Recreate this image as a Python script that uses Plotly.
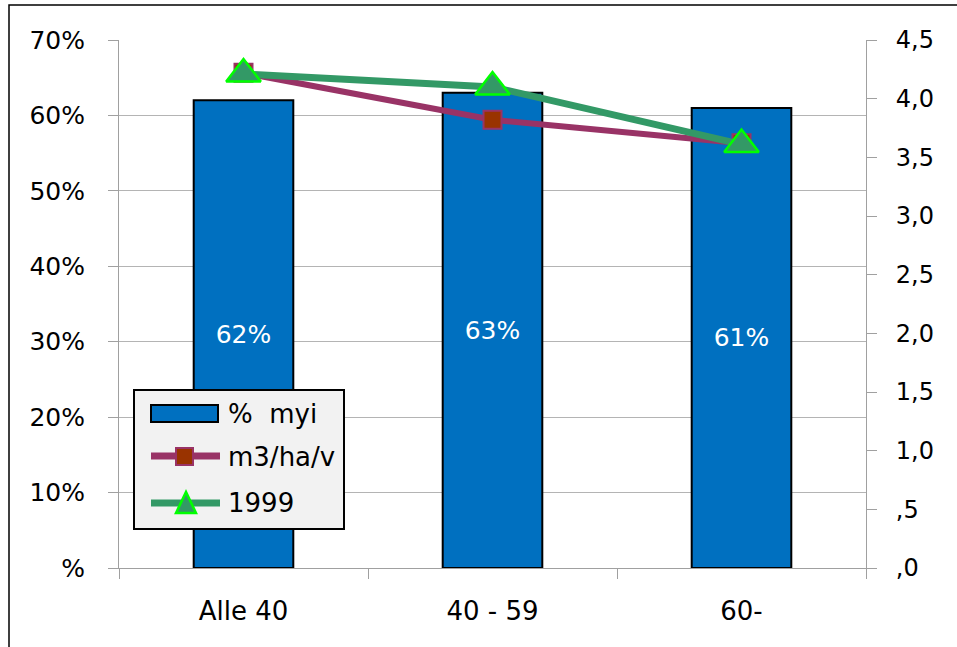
import plotly.graph_objects as go

# Age classes on the x axis
categories = ["Alle 40", "40 - 59", "60-"]

# Share (%) shown as bars on the left axis
share_myi = [62, 63, 61]

# Growth series on the right axis
m3_ha_v = [4.22, 3.82, 3.62]
year_1999 = [4.21, 4.10, 3.61]

series_names = ["%\u00a0\u00a0myi", "m3/ha/v", "1999"]

left_ticks = [0, 10, 20, 30, 40, 50, 60, 70]
left_ticktext = ["%", "10%", "20%", "30%", "40%", "50%", "60%", "70%"]
right_ticks = [0, 0.5, 1, 1.5, 2, 2.5, 3, 3.5, 4, 4.5]
right_ticktext = [",0", ",5", "1,0", "1,5", "2,0", "2,5", "3,0", "3,5", "4,0", "4,5"]

BAR_BLUE = "#0070C0"
PLUM = "#993366"
BRICK = "#993300"
SEA_GREEN = "#339966"
LIME = "#00FF00"
AXIS_GREY = "#a0a0a0"
GRID_GREY = "#b4b4b4"
FONT = "DejaVu Sans"

W, H = 957, 647
L, R, T, B = 119, 91, 40, 79
PW, PH = W - L - R, H - T - B


def px(x):
    return (x - L) / PW


def py(y):
    return (H - B - y) / PH


fig = go.Figure()

fig.add_trace(go.Bar(
    x=categories, y=share_myi, name=series_names[0],
    marker=dict(color=BAR_BLUE, line=dict(color="black", width=2)),
    width=0.4,
    texttemplate="%{y:.0f}%", textposition="inside", insidetextanchor="middle",
    textangle=0,
    textfont=dict(color="white", size=25, family=FONT),
    showlegend=False,
))

fig.add_trace(go.Scatter(
    x=categories, y=m3_ha_v, name=series_names[1], yaxis="y2",
    mode="lines+markers",
    line=dict(color=PLUM, width=6),
    marker=dict(symbol="square", size=18, color=BRICK, line=dict(color=PLUM, width=2)),
    showlegend=False,
))

fig.add_trace(go.Scatter(
    x=categories, y=year_1999, name=series_names[2], yaxis="y2",
    mode="lines+markers",
    line=dict(color=SEA_GREEN, width=7),
    marker=dict(symbol="triangle-up", size=30, color=SEA_GREEN, line=dict(color=LIME, width=2.5)),
    showlegend=False,
))

shapes = []
annotations = []

# Outer chart border (top and left edges visible)
shapes.append(dict(type="rect", xref="paper", yref="paper",
                   x0=px(9), x1=px(990), y0=py(680), y1=py(5),
                   line=dict(color="black", width=1.5), fillcolor="rgba(0,0,0,0)"))

# Legend box
shapes.append(dict(type="rect", xref="paper", yref="paper",
                   x0=px(134), x1=px(344), y0=py(529), y1=py(390),
                   line=dict(color="black", width=2), fillcolor="#f2f2f2"))

# Legend swatch: bar
shapes.append(dict(type="rect", xref="paper", yref="paper",
                   x0=px(151), x1=px(218), y0=py(422), y1=py(405),
                   line=dict(color="black", width=2), fillcolor=BAR_BLUE))

# Legend swatch: plum line with square marker
shapes.append(dict(type="line", xref="paper", yref="paper",
                   x0=px(151), x1=px(220), y0=py(456), y1=py(456),
                   line=dict(color=PLUM, width=7)))
shapes.append(dict(type="rect", xref="paper", yref="paper",
                   x0=px(176), x1=px(193), y0=py(465), y1=py(448),
                   line=dict(color=PLUM, width=2), fillcolor=BRICK))

# Legend swatch: green line with triangle marker
shapes.append(dict(type="line", xref="paper", yref="paper",
                   x0=px(151), x1=px(220), y0=py(503), y1=py(503),
                   line=dict(color=SEA_GREEN, width=7)))
tri = f"M {px(176)} {py(513)} L {px(196)} {py(513)} L {px(186)} {py(492)} Z"
shapes.append(dict(type="path", xref="paper", yref="paper", path=tri,
                   line=dict(color=LIME, width=2.5), fillcolor=SEA_GREEN))

for name, yc in zip(series_names, [414, 457, 503]):
    annotations.append(dict(xref="paper", yref="paper", x=px(226), y=py(yc),
                            text=name, showarrow=False, xanchor="left", yanchor="middle",
                            font=dict(family=FONT, size=26, color="black")))

fig.update_layout(
    width=W, height=H,
    margin=dict(l=L, r=R, t=T, b=B),
    paper_bgcolor="white", plot_bgcolor="white",
    bargap=0.6,
    shapes=shapes,
    annotations=annotations,
    font=dict(family=FONT, size=24, color="black"),
    xaxis=dict(
        type="category", tickson="boundaries",
        ticks="outside", ticklen=10, tickcolor=AXIS_GREY, tickwidth=1,
        showline=True, linecolor=AXIS_GREY, linewidth=1,
        showgrid=False, ticklabelstandoff=20,
        tickfont=dict(family=FONT, size=26, color="black"),
    ),
    yaxis=dict(
        range=[0, 70], tickvals=left_ticks, ticktext=left_ticktext,
        ticks="outside", ticklen=10, tickcolor=AXIS_GREY, tickwidth=1,
        showline=True, linecolor=AXIS_GREY, linewidth=1,
        showgrid=True, gridcolor=GRID_GREY, gridwidth=1,
        zeroline=False, ticklabelstandoff=18,
        tickfont=dict(family=FONT, size=25, color="black"),
    ),
    yaxis2=dict(
        range=[0, 4.5], tickvals=right_ticks, ticktext=right_ticktext,
        overlaying="y", side="right",
        ticks="outside", ticklen=10, tickcolor=AXIS_GREY, tickwidth=1,
        showline=True, linecolor=AXIS_GREY, linewidth=1,
        showgrid=False, zeroline=False, ticklabelstandoff=14,
        tickfont=dict(family=FONT, size=24, color="black"),
    ),
)

fig.write_html("out.html")
